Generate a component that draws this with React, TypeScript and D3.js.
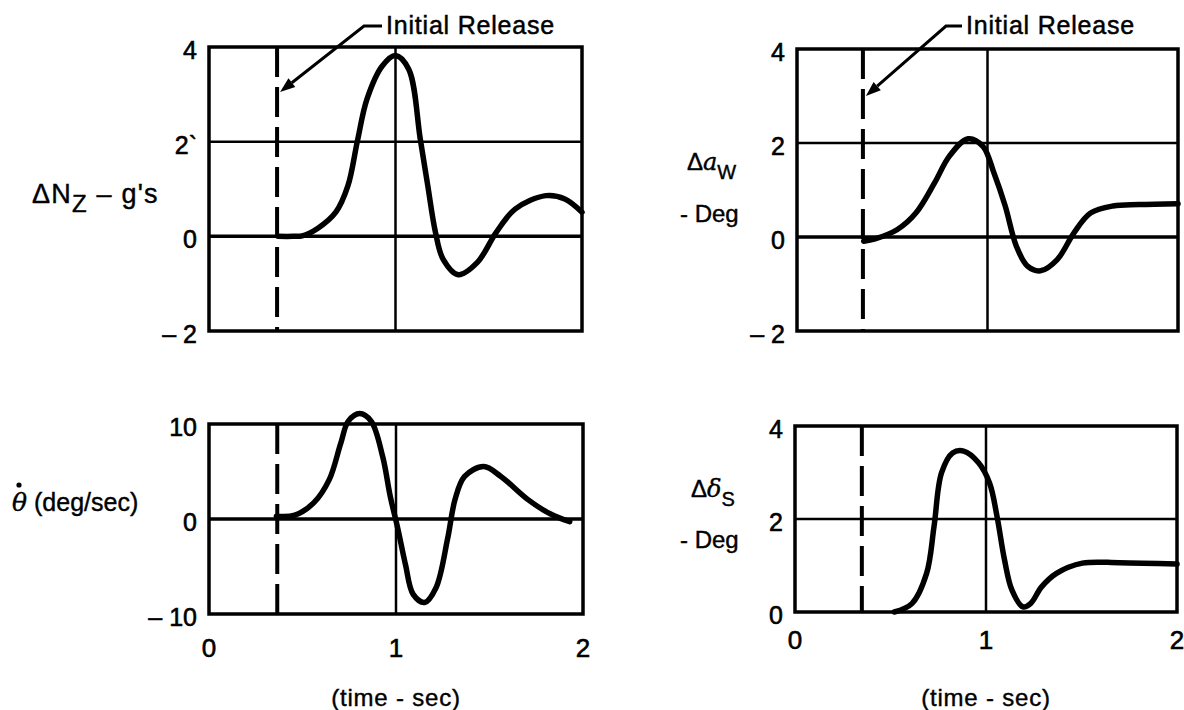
import React from "react";
import * as d3 from "d3";

// ---------- data ----------
const xTicks = [0, 1, 2];

const nzTime = [0.37, 0.45, 0.5, 0.58, 0.68, 0.745, 0.796, 0.847, 0.929, 1.0, 1.071, 1.133, 1.173, 1.214, 1.255, 1.337, 1.439, 1.541, 1.643, 1.806, 1.908, 2.0];
const nzValue = [0, 0, 0.01, 0.16, 0.51, 1.07, 2.02, 2.9, 3.6, 3.82, 3.53, 2.05, 1.07, 0.09, -0.48, -0.81, -0.55, 0.09, 0.58, 0.86, 0.79, 0.51];

const awTime = [0.35, 0.41, 0.527, 0.624, 0.722, 0.8, 0.898, 0.976, 1.034, 1.093, 1.151, 1.21, 1.278, 1.366, 1.454, 1.541, 1.659, 1.795, 2.0];
const awValue = [-0.09, -0.04, 0.16, 0.51, 1.15, 1.72, 2.09, 1.93, 1.36, 0.66, -0.19, -0.62, -0.72, -0.48, 0.09, 0.51, 0.66, 0.69, 0.71];

const thTime = [0.36, 0.459, 0.561, 0.643, 0.704, 0.745, 0.806, 0.867, 0.929, 0.969, 1.01, 1.051, 1.092, 1.153, 1.214, 1.276, 1.316, 1.367, 1.469, 1.561, 1.704, 1.827, 1.929];
const thValue = [0.3, 0.41, 1.72, 4.14, 7.93, 10.3, 11.1, 10.3, 6.55, 2.41, -1.03, -4.83, -7.93, -8.79, -7.24, -2.07, 2.07, 4.48, 5.52, 4.48, 2.07, 0.52, -0.28];

const dsTime = [0.52, 0.612, 0.689, 0.728, 0.767, 0.825, 0.883, 0.961, 1.019, 1.058, 1.097, 1.136, 1.194, 1.233, 1.291, 1.369, 1.505, 1.699, 2.0];
const dsValue = [0, 0.18, 0.83, 1.84, 2.99, 3.42, 3.46, 3.21, 2.77, 2.05, 1.12, 0.47, 0.11, 0.18, 0.54, 0.83, 1.05, 1.06, 1.03];

const nzTicks = [-2, 0, 2, 4];
const nzTickLabels = ["– 2", "0", "2`", "4"];
const awTicks = [-2, 0, 2, 4];
const awTickLabels = ["– 2", "0", "2", "4"];
const thTicks = [-10, 0, 10];
const thTickLabels = ["– 10", "0", "10"];
const dsTicks = [0, 2, 4];
const dsTickLabels = ["0", "2", "4"];

const releaseTimes = [0.365, 0.346, 0.365, 0.35];
const arrowValues = [3.05, 3.0];
const annotationText = "Initial Release";
const xAxisTitle = "(time - sec)";

const FONT = "'Liberation Sans', Arial, Helvetica, sans-serif";
const SERIF = "'DejaVu Serif', serif";

type Cfg = {
  x0: number; x1: number; yTop: number; yBot: number;
  domain: [number, number];
  ticks: number[]; tickLabels: string[];
  grid: number[]; thickGrid: number[];
  time: number[]; value: number[];
  release: number;
  showX: boolean; xLabelY: number;
  arrow?: { value: number; textX: number; elbowX: number };
  title: React.ReactNode;
};

function Panel({ c }: { c: Cfg }) {
  const x = d3.scaleLinear().domain([0, 2]).range([c.x0, c.x1]);
  const y = d3.scaleLinear().domain(c.domain).range([c.yBot, c.yTop]);
  const pts: [number, number][] = c.time.map((t, i) => [t, c.value[i]]);
  const line = d3
    .line<[number, number]>()
    .x((d) => x(d[0]))
    .y((d) => y(d[1]))
    .curve(d3.curveCatmullRom.alpha(0.5));
  const rx = x(c.release);
  let arrow: React.ReactNode = null;
  if (c.arrow) {
    const tipX = rx + 3;
    const tipY = y(c.arrow.value);
    const ly = 26;
    const ex = c.arrow.elbowX;
    const ang = Math.atan2(tipY - ly, tipX - ex);
    const L = 15, W = 5.5;
    const bx = tipX - L * Math.cos(ang), by = tipY - L * Math.sin(ang);
    const px = -Math.sin(ang) * W, py = Math.cos(ang) * W;
    arrow = (
      <g>
        <path
          d={`M${c.arrow.textX - 4},${ly}L${ex},${ly}L${bx},${by}`}
          fill="none"
          stroke="#000"
          strokeWidth={3}
        />
        <path d={`M${tipX},${tipY}L${bx + px},${by + py}L${bx - px},${by - py}Z`} fill="#000" />
        <text x={c.arrow.textX} y={34} fontFamily={FONT} fontSize={25} letterSpacing={0.8} fill="#000" stroke="#000" strokeWidth={0.5}>
          {annotationText}
        </text>
      </g>
    );
  }
  return (
    <g>
      {c.grid.map((g) => (
        <line key={"g" + g} x1={c.x0} x2={c.x1} y1={y(g)} y2={y(g)} stroke="#000"
          strokeWidth={c.thickGrid.includes(g) ? 3.5 : 2.5} />
      ))}
      <line x1={x(1)} x2={x(1)} y1={c.yTop} y2={c.yBot} stroke="#000" strokeWidth={2.5} />
      <line x1={rx} x2={rx} y1={c.yTop} y2={c.yBot} stroke="#000" strokeWidth={4} strokeDasharray="30 10" />
      <rect x={c.x0} y={c.yTop} width={c.x1 - c.x0} height={c.yBot - c.yTop} fill="none" stroke="#000" strokeWidth={3.5} />
      <path d={line(pts) || ""} fill="none" stroke="#000" strokeWidth={5.5} strokeLinejoin="round" strokeLinecap="round" />
      {c.ticks.map((t, i) => (
        <text key={"t" + t} x={c.x0 - 12} y={y(t) + 3} textAnchor="end" dominantBaseline="central"
          fontFamily={FONT} fontSize={25} fill="#000" stroke="#000" strokeWidth={0.6}>
          {c.tickLabels[i]}
        </text>
      ))}
      {c.showX && xTicks.map((t) => (
        <text key={"x" + t} x={x(t)} y={c.xLabelY} textAnchor="middle" dominantBaseline="central"
          fontFamily={FONT} fontSize={26} fill="#000" stroke="#000" strokeWidth={0.6}>
          {t}
        </text>
      ))}
      {c.showX && (
        <text x={x(1)} y={697} textAnchor="middle" dominantBaseline="central"
          fontFamily={FONT} fontSize={24} letterSpacing={0.8} fill="#000" stroke="#000" strokeWidth={0.4}>
          {xAxisTitle}
        </text>
      )}
      {arrow}
      {c.title}
    </g>
  );
}

const tStyle = { fontFamily: FONT, fontSize: 24, fill: "#000", stroke: "#000", strokeWidth: 0.4 } as const;

export default function App() {
  const panels: Cfg[] = [
    {
      x0: 209, x1: 582, yTop: 47, yBot: 331, domain: [-2, 4],
      ticks: nzTicks, tickLabels: nzTickLabels, grid: [0, 2], thickGrid: [0],
      time: nzTime, value: nzValue, release: releaseTimes[0], showX: false, xLabelY: 0,
      arrow: { value: arrowValues[0], textX: 386, elbowX: 364 },
      title: (
        <text x={32} y={203} {...tStyle} fontSize={27} letterSpacing={1.2}>
          ΔN<tspan dy={9} fontSize={24}>Z</tspan><tspan dy={-9}> – g's</tspan>
        </text>
      ),
    },
    {
      x0: 797, x1: 1178, yTop: 49, yBot: 331, domain: [-2, 4],
      ticks: awTicks, tickLabels: awTickLabels, grid: [0, 2], thickGrid: [0],
      time: awTime, value: awValue, release: releaseTimes[1], showX: false, xLabelY: 0,
      arrow: { value: arrowValues[1], textX: 966, elbowX: 946 },
      title: (
        <g>
          <text x={687} y={170} {...tStyle}>
            Δ<tspan fontStyle="italic" fontFamily={SERIF}>a</tspan><tspan dy={9} fontSize={20}>W</tspan>
          </text>
          <text x={680} y={222} {...tStyle}>- Deg</text>
        </g>
      ),
    },
    {
      x0: 209, x1: 583, yTop: 424, yBot: 614, domain: [-10, 10],
      ticks: thTicks, tickLabels: thTickLabels, grid: [0], thickGrid: [0],
      time: thTime, value: thValue, release: releaseTimes[2], showX: true, xLabelY: 648,
      title: (
        <g>
          <circle cx={19} cy={485} r={2.6} fill="#000" />
          <text x={12} y={511} {...tStyle} fontSize={25}>
            <tspan fontStyle="italic" fontFamily={SERIF}>θ</tspan> (deg/sec)
          </text>
        </g>
      ),
    },
    {
      x0: 795, x1: 1177, yTop: 426, yBot: 612, domain: [0, 4],
      ticks: dsTicks, tickLabels: dsTickLabels, grid: [2], thickGrid: [],
      time: dsTime, value: dsValue, release: releaseTimes[3], showX: true, xLabelY: 640,
      title: (
        <g>
          <text x={691} y={497} {...tStyle}>
            Δ<tspan fontStyle="italic" fontFamily={SERIF}>δ</tspan><tspan dy={9} fontSize={20}>S</tspan>
          </text>
          <text x={680} y={548} {...tStyle}>- Deg</text>
        </g>
      ),
    },
  ];
  return (
    <svg width={1184} height={710} style={{ position: "absolute", left: 0, top: 0, background: "#fff" }}>
      <rect width={1184} height={710} fill="#fff" />
      {panels.map((p, i) => (
        <Panel key={i} c={p} />
      ))}
    </svg>
  );
}
